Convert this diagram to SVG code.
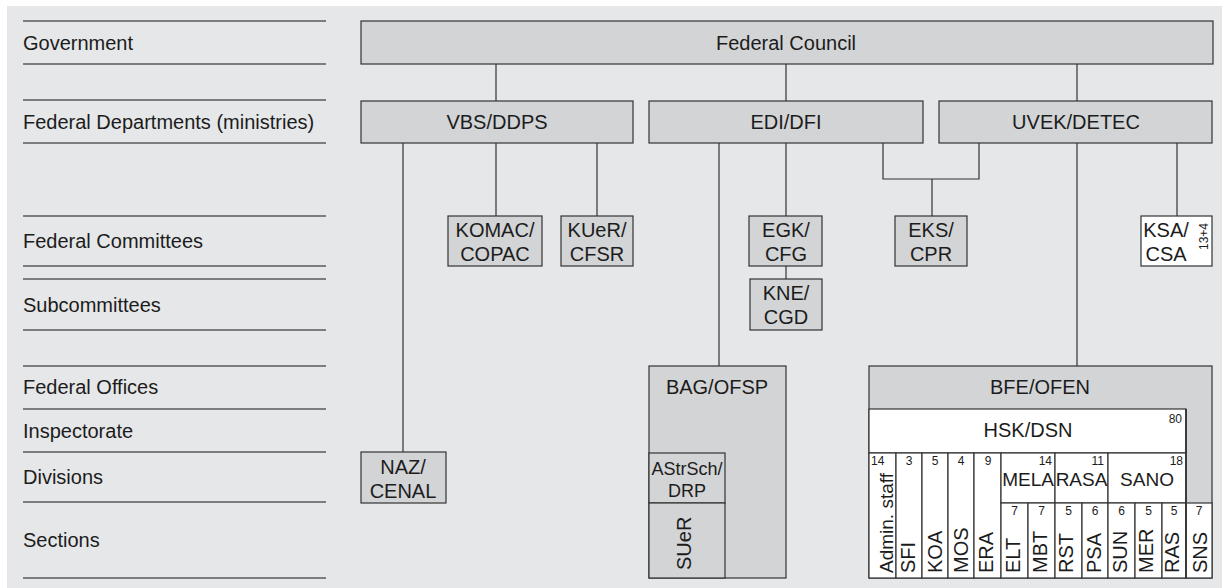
<svg xmlns="http://www.w3.org/2000/svg" width="1222" height="588" viewBox="0 0 1222 588">
<style>
text{font-family:"Liberation Sans",Arial,Helvetica,sans-serif;fill:#1c1c1c;}
.lbl{font-size:20px;}
.t{font-size:20px;text-anchor:middle;}
.ts{font-size:18px;text-anchor:middle;}
.n{font-size:12px;text-anchor:middle;}
.ne{font-size:12px;text-anchor:end;}
.nl{font-size:12px;text-anchor:start;}
.r{font-size:20px;text-anchor:start;}
.box{fill:#d3d4d6;stroke:#333;stroke-width:1.2;}
.wbox{fill:#fff;stroke:#333;stroke-width:1.2;}
.rule{stroke:#5a5a5a;stroke-width:1.3;fill:none;}
.con{stroke:#333;stroke-width:1.2;fill:none;}
</style>
<rect x="0" y="0" width="1222" height="588" fill="#fff"/>
<rect x="7" y="6" width="1215" height="582" fill="#e6e7e9"/>

<g id="levels">
<g class="rule">
<line x1="23" y1="21" x2="326" y2="21"/>
<line x1="23" y1="64" x2="326" y2="64"/>
<line x1="23" y1="100" x2="326" y2="100"/>
<line x1="23" y1="143" x2="326" y2="143"/>
<line x1="23" y1="216" x2="326" y2="216"/>
<line x1="23" y1="266" x2="326" y2="266"/>
<line x1="23" y1="279" x2="326" y2="279"/>
<line x1="23" y1="330" x2="326" y2="330"/>
<line x1="23" y1="366" x2="326" y2="366"/>
<line x1="23" y1="409" x2="326" y2="409"/>
<line x1="23" y1="452" x2="326" y2="452"/>
<line x1="23" y1="502" x2="326" y2="502"/>
<line x1="23" y1="578" x2="326" y2="578"/>
</g>
<text class="lbl" x="23" y="50">Government</text>
<text class="lbl" x="23" y="129">Federal Departments (ministries)</text>
<text class="lbl" x="23" y="248">Federal Committees</text>
<text class="lbl" x="23" y="312">Subcommittees</text>
<text class="lbl" x="23" y="394">Federal Offices</text>
<text class="lbl" x="23" y="438">Inspectorate</text>
<text class="lbl" x="23" y="484">Divisions</text>
<text class="lbl" x="23" y="547">Sections</text>
</g>

<g id="connectors" class="con">
<line x1="496" y1="64" x2="496" y2="101"/>
<line x1="786" y1="64" x2="786" y2="101"/>
<line x1="1077" y1="64" x2="1077" y2="101"/>
<line x1="403" y1="143" x2="403" y2="452"/>
<line x1="496" y1="143" x2="496" y2="216"/>
<line x1="597" y1="143" x2="597" y2="216"/>
<line x1="719" y1="143" x2="719" y2="366"/>
<line x1="786" y1="143" x2="786" y2="216"/>
<line x1="786" y1="266" x2="786" y2="279"/>
<polyline points="883,143 883,179 979,179 979,143"/>
<line x1="932" y1="179" x2="932" y2="216"/>
<line x1="1077" y1="143" x2="1077" y2="366"/>
<line x1="1177" y1="143" x2="1177" y2="216"/>
</g>

<g id="federal-council">
<rect class="box" x="361" y="21" width="852" height="43"/>
<text class="t" x="786" y="50">Federal Council</text>
</g>
<g id="vbs">
<rect class="box" x="361" y="101" width="272" height="42"/>
<text class="t" x="497" y="129">VBS/DDPS</text>
</g>
<g id="edi">
<rect class="box" x="649" y="101" width="274" height="42"/>
<text class="t" x="786" y="129">EDI/DFI</text>
</g>
<g id="uvek">
<rect class="box" x="939" y="101" width="273" height="42"/>
<text class="t" x="1076" y="129">UVEK/DETEC</text>
</g>
<g id="komac">
<rect class="box" x="448" y="216" width="94" height="50"/>
<text class="t" x="495" y="237">KOMAC/</text>
<text class="t" x="495" y="261">COPAC</text>
</g>
<g id="kuer">
<rect class="box" x="561" y="216" width="72" height="50"/>
<text class="t" x="597" y="237">KUeR/</text>
<text class="t" x="597" y="261">CFSR</text>
</g>
<g id="egk">
<rect class="box" x="749" y="216" width="73" height="50"/>
<text class="t" x="786" y="237">EGK/</text>
<text class="t" x="786" y="261">CFG</text>
</g>
<g id="kne">
<rect class="box" x="750" y="279" width="72" height="51"/>
<text class="t" x="786" y="300">KNE/</text>
<text class="t" x="786" y="324">CGD</text>
</g>
<g id="eks">
<rect class="box" x="895" y="216" width="72" height="50"/>
<text class="t" x="931" y="237">EKS/</text>
<text class="t" x="931" y="261">CPR</text>
</g>
<g id="ksa">
<rect class="wbox" x="1141" y="216" width="71" height="50"/>
<text class="t" x="1166" y="237">KSA/</text>
<text class="t" x="1166" y="261">CSA</text>
<text class="nl" transform="translate(1208,250) rotate(-90)">13+4</text>
</g>
<g id="naz">
<rect class="box" x="361" y="452" width="85" height="51"/>
<text class="t" x="403" y="474">NAZ/</text>
<text class="t" x="403" y="498">CENAL</text>
</g>
<g id="bag">
<rect class="box" x="649" y="366" width="137" height="212"/>
<text class="t" x="717" y="394">BAG/OFSP</text>
<rect class="box" x="649" y="453" width="76" height="50"/>
<text class="ts" x="687" y="475">AStrSch/</text>
<text class="ts" x="687" y="497">DRP</text>
<rect class="box" x="649" y="503" width="76" height="75"/>
<text class="r" transform="translate(691,570) rotate(-90)">SUeR</text>
</g>
<g id="bfe">
<rect class="box" x="869" y="366" width="343" height="212"/>
<text class="t" x="1040" y="394">BFE/OFEN</text>
</g>
<g id="hsk">
<rect class="wbox" x="869" y="409" width="317" height="44"/>
<text class="t" x="1028" y="437">HSK/DSN</text>
<text class="ne" x="1182" y="423">80</text>
</g>
<g id="hsk-units">
<rect class="wbox" x="869" y="453" width="27" height="125"/>
<rect class="wbox" x="896" y="453" width="26" height="125"/>
<rect class="wbox" x="922" y="453" width="26" height="125"/>
<rect class="wbox" x="948" y="453" width="26" height="125"/>
<rect class="wbox" x="974" y="453" width="27" height="125"/>
<rect class="wbox" x="1001" y="453" width="54" height="50"/>
<rect class="wbox" x="1055" y="453" width="53" height="50"/>
<rect class="wbox" x="1108" y="453" width="78" height="50"/>
<rect class="wbox" x="1001" y="503" width="27" height="75"/>
<rect class="wbox" x="1028" y="503" width="27" height="75"/>
<rect class="wbox" x="1055" y="503" width="27" height="75"/>
<rect class="wbox" x="1082" y="503" width="26" height="75"/>
<rect class="wbox" x="1108" y="503" width="27" height="75"/>
<rect class="wbox" x="1135" y="503" width="27" height="75"/>
<rect class="wbox" x="1162" y="503" width="24" height="75"/>
<rect class="wbox" x="1186" y="503" width="26" height="75"/>
<line x1="1186" y1="409" x2="1186" y2="578" stroke="#333" stroke-width="1.8"/>
<text class="nl" x="871" y="465">14</text>
<text class="n" x="909" y="465">3</text>
<text class="n" x="935" y="465">5</text>
<text class="n" x="961" y="465">4</text>
<text class="n" x="988" y="465">9</text>
<text class="ne" x="1052" y="465">14</text>
<text class="ne" x="1104" y="465">11</text>
<text class="ne" x="1183" y="465">18</text>
<text class="t" x="1028" y="486" style="font-size:19px">MELA</text>
<text class="t" x="1081.5" y="486" style="font-size:19px">RASA</text>
<text class="t" x="1147" y="486" style="font-size:19px">SANO</text>
<text class="n" x="1014.5" y="515">7</text>
<text class="n" x="1041.5" y="515">7</text>
<text class="n" x="1068.5" y="515">5</text>
<text class="n" x="1095" y="515">6</text>
<text class="n" x="1121.5" y="515">6</text>
<text class="n" x="1148.5" y="515">5</text>
<text class="n" x="1174" y="515">5</text>
<text class="n" x="1199" y="515">7</text>
<text class="r" transform="translate(893,573) rotate(-90)" style="font-size:19px">Admin. staff</text>
<text class="r" transform="translate(915,573) rotate(-90)">SFI</text>
<text class="r" transform="translate(942,573) rotate(-90)">KOA</text>
<text class="r" transform="translate(968,573) rotate(-90)">MOS</text>
<text class="r" transform="translate(993,573) rotate(-90)">ERA</text>
<text class="r" transform="translate(1020,573) rotate(-90)">ELT</text>
<text class="r" transform="translate(1047,573) rotate(-90)">MBT</text>
<text class="r" transform="translate(1073,573) rotate(-90)">RST</text>
<text class="r" transform="translate(1101,573) rotate(-90)">PSA</text>
<text class="r" transform="translate(1127,573) rotate(-90)">SUN</text>
<text class="r" transform="translate(1153,573) rotate(-90)">MER</text>
<text class="r" transform="translate(1179,573) rotate(-90)">RAS</text>
<text class="r" transform="translate(1207,573) rotate(-90)">SNS</text>
</g>
</svg>
